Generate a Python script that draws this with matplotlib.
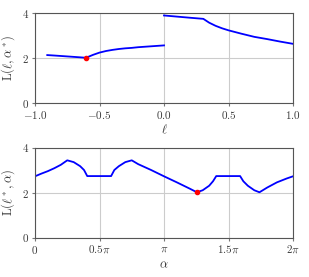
import numpy as np
import matplotlib.pyplot as plt

plt.rcParams['mathtext.fontset'] = 'cm'
plt.rcParams['font.family'] = 'serif'
plt.rcParams['font.size'] = 8

# Ylemine graafik: L(l, alpha*)
l_seg1 = [-0.905, -0.85, -0.8, -0.75, -0.7, -0.65, -0.605]
L_seg1 = [2.13, 2.11, 2.09, 2.07, 2.05, 2.03, 2.01]
l_seg2 = [-0.605, -0.55, -0.5, -0.45, -0.4, -0.35, -0.3, -0.25, -0.2, -0.15, -0.1, -0.05, 0.0]
L_seg2 = [2.01, 2.14, 2.24, 2.31, 2.36, 2.40, 2.43, 2.45, 2.48, 2.50, 2.52, 2.54, 2.56]
l_seg3 = [0.0, 0.1, 0.2, 0.305, 0.35, 0.4, 0.45, 0.5, 0.6, 0.7, 0.8, 0.9, 1.0]
L_seg3 = [3.89, 3.84, 3.79, 3.74, 3.57, 3.43, 3.32, 3.23, 3.08, 2.94, 2.84, 2.73, 2.63]
l_min, L_min = -0.605, 2.01

# Alumine graafik: L(l*, alpha), alpha pi-kordsetena
a_pi = [0.0, 0.05, 0.1, 0.15, 0.2, 0.25, 0.3, 0.35, 0.38, 0.405,
        0.59, 0.615, 0.65, 0.7, 0.75, 0.8, 0.9, 1.0, 1.1, 1.2, 1.255,
        1.3, 1.35, 1.38, 1.405, 1.59, 1.615, 1.65, 1.7, 1.74,
        1.8, 1.875, 1.95, 2.0]
L_alpha = [2.72, 2.84, 2.95, 3.08, 3.23, 3.43, 3.35, 3.17, 3.0, 2.73,
           2.73, 3.0, 3.17, 3.35, 3.43, 3.26, 3.0, 2.72, 2.45, 2.17, 2.01,
           2.1, 2.3, 2.5, 2.73, 2.73, 2.5, 2.3, 2.1, 2.01,
           2.22, 2.45, 2.62, 2.72]
a_min_pi, La_min = 1.255, 2.01

tekst = '#3a3a3a'

fig = plt.figure(figsize=(3.09, 2.77), dpi=100)
ax1 = fig.add_axes([35/309, 1-103/277, 258/309, 90/277])
ax2 = fig.add_axes([35/309, 1-237.5/277, 258/309, 90/277])

for ax in (ax1, ax2):
    ax.grid(True, color='#cccccc', linewidth=0.8)
    ax.set_axisbelow(True)
    for s in ax.spines.values():
        s.set_color('#555555')
    ax.tick_params(length=2.5, width=0.8, color='#777777', pad=2,
                   labelsize=8, labelcolor=tekst)
    ax.set_ylim(0, 4)
    ax.set_yticks([0, 2, 4])
    ax.set_yticklabels(['$0$', '$2$', '$4$'])

ax1.plot(l_seg1, L_seg1, color='blue', linewidth=1.3)
ax1.plot(l_seg2, L_seg2, color='blue', linewidth=1.3)
ax1.plot(l_seg3, L_seg3, color='blue', linewidth=1.3)
ax1.plot([l_min], [L_min], 'o', color='red', markersize=3)
ax1.set_xlim(-1, 1)
ax1.set_xticks([-1, -0.5, 0, 0.5, 1])
ax1.set_xticklabels(['$-1.0$', '$-0.5$', '$0.0$', '$0.5$', '$1.0$'])
ax1.set_xlabel(r'$\ell$', labelpad=1, fontsize=9, color=tekst)
ax1.set_ylabel(r'$\mathrm{L}(\ell,\alpha^*)$', fontsize=9, labelpad=3, color=tekst)

a = np.array(a_pi) * np.pi
ax2.plot(a, L_alpha, color='blue', linewidth=1.3)
ax2.plot([a_min_pi * np.pi], [La_min], 'o', color='red', markersize=3)
ax2.set_xlim(0, 2 * np.pi)
ax2.set_xticks([0, 0.5 * np.pi, np.pi, 1.5 * np.pi, 2 * np.pi])
ax2.set_xticklabels(['$0$', r'$0.5\pi$', r'$\pi$', r'$1.5\pi$', r'$2\pi$'])
ax2.set_xlabel(r'$\alpha$', labelpad=2, fontsize=9, color=tekst)
ax2.set_ylabel(r'$\mathrm{L}(\ell^*,\alpha)$', fontsize=9, labelpad=3, color=tekst)

plt.savefig('out.png', dpi=100)
